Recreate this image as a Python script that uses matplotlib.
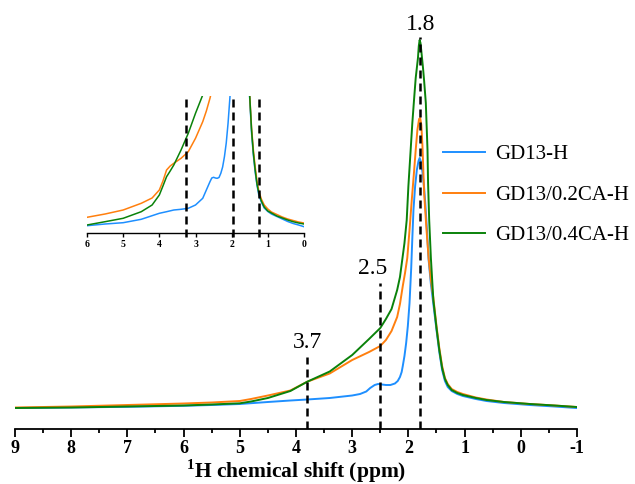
import numpy as np
import matplotlib
matplotlib.use("Agg")
import matplotlib.pyplot as plt

plt.rcParams['font.family'] = ['Liberation Serif', 'DejaVu Serif']
plt.rcParams['mathtext.fontset'] = 'custom'
plt.rcParams['mathtext.rm'] = 'Liberation Serif'
plt.rcParams['mathtext.bf'] = 'Liberation Serif:bold'

# main spectra (ppm, intensity, arbitrary units)
ppm_blue = [9.0, 8.0, 7.0, 6.0, 5.5, 5.0, 4.8, 4.5, 4.1, 3.8, 3.4, 3.0, 2.86, 2.75, 2.68, 2.6,
            2.54, 2.47, 2.4, 2.32, 2.24, 2.19, 2.15, 2.12, 2.10, 2.07, 2.04, 2.01, 1.98, 1.95,
            1.93, 1.91, 1.88, 1.85, 1.82, 1.80, 1.78, 1.75, 1.72, 1.70, 1.67, 1.64, 1.60,
            1.556, 1.5, 1.45, 1.40, 1.35, 1.30, 1.23, 1.13, 1.03, 0.8, 0.61, 0.3, -0.16,
            -0.6, -0.99]
int_blue = [0, 0.5, 1.2, 2.2, 3, 4, 4.8, 6, 7.5, 8.5, 10, 12.5, 14, 16.5, 20, 23,
            24, 23.5, 23, 23, 24.5, 27, 31, 36, 42, 52, 65, 82, 105, 140,
            170, 198, 222, 238, 247, 250, 247, 236, 220, 205, 178, 148, 124,
            104, 78, 56, 38, 27, 21, 17, 14, 12, 9, 7, 5, 3,
            1.5, 0]

ppm_orange = [9.0, 8.0, 7.0, 6.0, 5.5, 5.0, 4.8, 4.5, 4.1, 3.8, 3.4, 3.0, 2.7, 2.5, 2.4, 2.3,
              2.2, 2.15, 2.1, 2.06, 2.02, 1.98, 1.94, 1.90, 1.87, 1.84, 1.81, 1.79, 1.77,
              1.75, 1.72, 1.68, 1.64, 1.60, 1.556, 1.5, 1.45, 1.40, 1.35, 1.30, 1.23, 1.13,
              1.03, 0.8, 0.61, 0.3, -0.16, -0.6, -0.99]
int_orange = [0.5, 1.5, 3, 4.5, 5.5, 7, 9, 12.5, 17.5, 26.3, 34.5, 48, 56, 62, 68, 77,
              91, 104, 122, 135, 150, 178, 208, 236, 258, 278, 289, 290, 283,
              262, 215, 180, 150, 128, 110, 82, 60, 42, 30, 24, 19, 16,
              14, 10.5, 8.5, 6, 4, 2.5, 1]

ppm_green = [9.0, 8.0, 7.0, 6.0, 5.5, 5.0, 4.8, 4.5, 4.1, 3.8, 3.4, 3.0, 2.7, 2.5, 2.4, 2.3,
             2.2, 2.15, 2.11, 2.07, 2.03, 2.00, 1.96, 1.93, 1.90, 1.87, 1.83, 1.815, 1.80,
             1.785, 1.77, 1.74, 1.72, 1.69, 1.66, 1.65, 1.63, 1.60, 1.556, 1.5, 1.45, 1.40,
             1.35, 1.30, 1.23, 1.13, 1.03, 0.8, 0.61, 0.3, -0.16, -0.6, -0.99]
int_green = [0, 0.5, 1.5, 2.5, 3.5, 4.7, 6.5, 10, 17, 26.3, 36.5, 53, 69, 80, 89, 99,
             118, 131, 148, 165, 188, 222, 258, 285, 308, 330, 350, 362, 368,
             365, 357, 340, 327, 305, 258, 225, 188, 150, 108, 80, 58, 40,
             29, 23, 18, 15, 13, 10, 8, 6, 4, 2.5, 1]

# inset spectra
ins_ppm_blue = [6.0, 5.5, 5.0, 4.5, 4.0, 3.8, 3.6, 3.4, 3.2, 3.0, 2.8, 2.7, 2.6, 2.55, 2.5, 2.45,
                2.4, 2.35, 2.3, 2.25, 2.2, 2.15, 2.1, 2.05, 2.0,
                1.55, 1.5, 1.45, 1.4, 1.35, 1.3, 1.25, 1.18, 1.1, 1.0, 0.9, 0.75, 0.6, 0.45,
                0.3, 0.15, 0.0]
ins_int_blue = [7.3, 9, 10.3, 13.7, 19.7, 21.3, 23, 23.7, 24.7, 28, 34.7, 43, 51.3, 55, 55.7, 55,
                54.7, 55.5, 59.7, 66, 76.3, 90, 109.7, 134.7, 160,
                160, 134, 100, 78, 61, 48, 38, 31, 25, 21.5, 19, 16.5, 14, 11.5,
                9.5, 8, 6.3]
ins_ppm_orange = [6.0, 5.5, 5.0, 4.5, 4.2, 4.0, 3.9, 3.8, 3.7, 3.6, 3.4, 3.2, 3.0, 2.8, 2.7,
                  2.6, 2.5,
                  1.55, 1.5, 1.45, 1.4, 1.35, 1.3, 1.25, 1.18, 1.1, 1.0, 0.9, 0.75, 0.6, 0.45,
                  0.3, 0.15, 0.0]
ins_int_orange = [15.7, 19, 23, 29.7, 35, 43, 52, 63, 67, 69.7, 74.7, 81.3, 94.7, 111.3, 122,
                  134.7, 150,
                  160, 137, 105, 83, 66, 52, 42, 34, 28, 24, 21, 18.5, 16, 14,
                  12.5, 11, 10]
ins_ppm_green = [6.0, 5.5, 5.0, 4.5, 4.2, 4.0, 3.9, 3.8, 3.7, 3.6, 3.4, 3.2, 3.0, 2.8, 2.7,
                 1.55, 1.5, 1.45, 1.4, 1.35, 1.3, 1.25, 1.18, 1.1, 1.0, 0.9, 0.75, 0.6, 0.45,
                 0.3, 0.15, 0.0]
ins_int_green = [8, 11.3, 14.7, 21.3, 28, 38, 47, 56.3, 62, 68, 83, 99.7, 119.7, 138, 150,
                 160, 136, 103, 80, 63, 49, 40, 32, 26, 22, 20, 17, 15, 13,
                 11.3, 10, 9]

labels = ['GD13-H', 'GD13/0.2CA-H', 'GD13/0.4CA-H']
colors = ['#1E8FFF', '#FF7F0E', '#0A820A']

peak_ppm = [3.8, 2.5, 1.8]
peak_top = [51, 125, 371]
peak_text = ['3.7', '2.5', '1.8']
peak_text_x = [3.8, 2.63, 1.78]
peak_text_y = [60, 134, 378]

inset_lines = [3.25, 1.95, 1.24]

fig = plt.figure(figsize=(6.35, 4.84), dpi=100)
ax = fig.add_axes([15 / 635, (484 - 428.5) / 484, 562 / 635, (428.5 - 10) / 484])

for p, v, lab, c in zip([ppm_blue, ppm_orange, ppm_green], [int_blue, int_orange, int_green], labels, colors):
    ax.plot(p, v, color=c, lw=1.4, label=lab)

for x, top in zip(peak_ppm, peak_top):
    ax.plot([x, x], [-20.5, top], color='black', lw=1.8, linestyle=(0, (3.2, 2.0)))
for x, y, t in zip(peak_text_x, peak_text_y, peak_text):
    ax.text(x, y, t, fontsize=17, ha='center', va='baseline')

ax.set_xlim(9, -1)
ax.set_ylim(-20.5, 398)
for s in ['left', 'right', 'top']:
    ax.spines[s].set_visible(False)
ax.spines['bottom'].set_linewidth(1.3)
ax.set_yticks([])
ax.set_xticks(np.arange(9, -2, -1))
ax.set_xticklabels([str(i) for i in range(9, -2, -1)])
ax.set_xticks(np.arange(8.5, -1, -1), minor=True)
ax.tick_params(axis='x', which='major', direction='out', length=5.5, width=1.3, labelsize=13, pad=3)
ax.tick_params(axis='x', which='minor', direction='out', length=3, width=1.3)
for t in ax.get_xticklabels():
    t.set_fontweight('bold')
ax.set_xlabel(r'$^{\mathbf{1}}$H chemical shift (ppm)', fontsize=15.5, fontweight='bold', labelpad=0)
ax.patch.set_alpha(0)

ax.legend(loc='center left', bbox_to_anchor=(443 / 635, 1 - 195 / 484), bbox_transform=fig.transFigure,
          frameon=False, fontsize=15, handlelength=2.0, handletextpad=0.5, labelspacing=1.0,
          borderpad=0, borderaxespad=0)

# inset
ins = fig.add_axes([87 / 635, (484 - 233) / 484, 217 / 635, 137 / 484])
for p, v, c in zip([ins_ppm_blue, ins_ppm_orange, ins_ppm_green], [ins_int_blue, ins_int_orange, ins_int_green], colors):
    ins.plot(p, v, color=c, lw=1.1)
for x in inset_lines:
    ins.plot([x, x], [-4, 137], color='black', lw=1.8, linestyle=(0, (3.2, 2.0)), clip_on=False)
ins.set_xlim(6, 0)
ins.set_ylim(0, 137)
for s in ['left', 'right', 'top']:
    ins.spines[s].set_visible(False)
ins.spines['bottom'].set_linewidth(1.0)
ins.set_yticks([])
ins.set_xticks(np.arange(6, -1, -1))
ins.tick_params(axis='x', direction='out', length=3, width=1.0, labelsize=7, pad=2)
for t in ins.get_xticklabels():
    t.set_fontweight('bold')
ins.patch.set_alpha(0)

fig.savefig('out.png', dpi=100)
